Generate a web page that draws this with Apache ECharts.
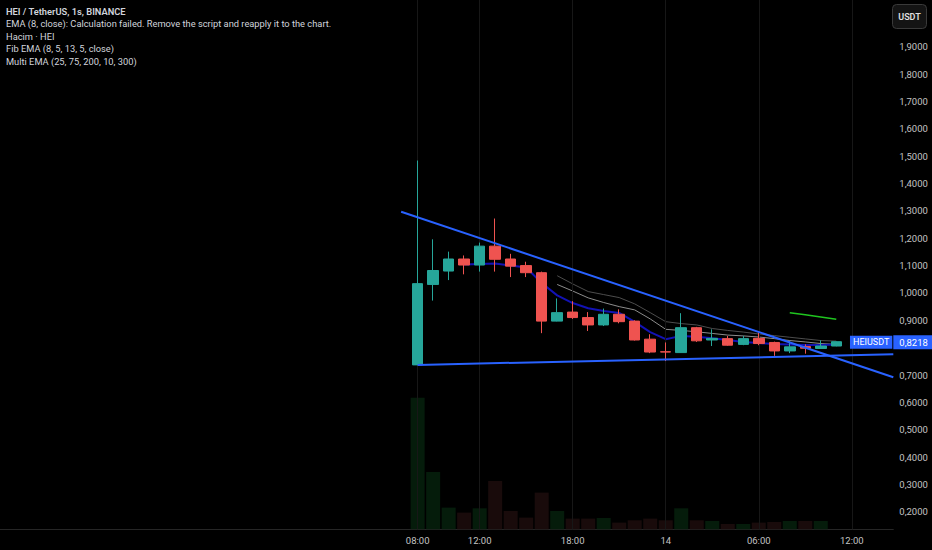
<!DOCTYPE html>
<html>
<head>
<meta charset="utf-8">
<script src="https://cdn.jsdelivr.net/npm/echarts@6/dist/echarts.min.js"></script>
<style>
html,body{margin:0;padding:0;background:#000;}
#chart{width:932px;height:550px;}
</style>
</head>
<body>
<div id="chart"></div>
<script>
// ---- data (hour index 0 = 08:00) ----
var hourIndex = [0,1,2,3,4,5,6,7,8,9,10,11,12,13,14,15,16,17,18,19,20,21,22,23,24,25,26,27];
var openP  = [0.737,1.031,1.080,1.124,1.102,1.171,1.124,1.100,1.074,0.897,0.930,0.910,0.883,0.922,0.897,0.831,0.785,0.782,0.873,0.828,0.833,0.812,0.834,0.819,0.788,0.804,0.797,0.806];
var closeP = [1.034,1.082,1.124,1.102,1.171,1.123,1.098,1.074,0.897,0.928,0.910,0.883,0.922,0.895,0.828,0.784,0.784,0.873,0.825,0.834,0.809,0.833,0.815,0.788,0.803,0.798,0.806,0.8218];
var lowP   = [0.737,0.972,1.047,1.068,1.078,1.078,1.058,1.058,0.853,0.896,0.905,0.861,0.879,0.889,0.826,0.780,0.751,0.781,0.821,0.806,0.807,0.809,0.809,0.770,0.780,0.778,0.796,0.805];
var highP  = [1.484,1.196,1.151,1.137,1.184,1.272,1.143,1.114,1.078,0.980,0.970,0.930,0.943,0.940,0.900,0.849,0.819,0.926,0.876,0.867,0.843,0.843,0.855,0.822,0.8245,0.812,0.827,0.823];
var volume = [395,172,65,50,63,145,55,35,110,55,32,32,34,20,27,32,27,63,27,25,16,16,20,22,25,25,25,0];

var emaNavy  = [null,null,null,1.104,1.106,1.108,1.100,1.093,1.036,0.991,0.963,0.944,0.934,0.927,0.894,0.857,0.831,0.843,0.840,0.834,0.828,0.821,0.817,0.813,0.812,0.810,0.810,0.812];
var emaGrey1 = [null,null,null,null,null,null,null,null,null,1.063,1.033,1.005,0.994,0.983,0.960,0.928,0.895,0.888,0.883,0.870,0.863,0.857,0.850,0.844,0.838,0.832,0.826,0.824];
var emaGrey2 = [null,null,null,null,null,null,null,null,null,1.031,1.007,0.982,0.965,0.950,0.938,0.905,0.867,0.863,0.858,0.852,0.846,0.843,0.839,0.833,0.826,0.821,0.815,0.812];
var emaGreen = [null,null,null,null,null,null,null,null,null,null,null,null,null,null,null,null,null,null,null,null,null,null,null,null,0.928,0.920,0.912,0.904];

var trendUpper = [[-1.065,1.297],[30.677,0.6917]];
var trendLower = [[0,0.737],[30.677,0.7757]];

var timeTickPos = [0,4,10,16,22,28];
var timeTickLabels = ['08:00','12:00','18:00','14','06:00','12:00'];
// 0,8000 is hidden behind the last-price tag in the reference
var priceTicks = [0.2,0.3,0.4,0.5,0.6,0.7,0.9,1.0,1.1,1.2,1.3,1.4,1.5,1.6,1.7,1.8,1.9];

var legendLines = ['HEI / TetherUS, 1s, BINANCE',
  'EMA (8, close): Calculation failed. Remove the script and reapply it to the chart.',
  'Hacim · HEI',
  'Fib EMA (8, 5, 13, 5, close)',
  'Multi EMA (25, 75, 200, 10, 300)'];
var symbolName = 'HEIUSDT';
var quoteName = 'USDT';

// ---- build ----
var UP = '#26a69a', DOWN = '#ef5350';
var FONT = 'Roboto, sans-serif';
function fmt(v){ return v.toFixed(4).replace('.', ','); }
function pairs(arr){ var o=[]; for(var i=0;i<arr.length;i++){ o.push([hourIndex[i], arr[i]]); } return o; }

var candleData = [], volData = [];
for (var i=0;i<hourIndex.length;i++){
  candleData.push([hourIndex[i], openP[i], closeP[i], lowP[i], highP[i]]);
  volData.push({value:[hourIndex[i], volume[i]], itemStyle:{color: closeP[i] >= openP[i] ? '#051c0b' : '#190b0b'}});
}
var lastClose = closeP[closeP.length-1];

var XMIN = -26.935, XMAX = 30.677;
var chart = echarts.init(document.getElementById('chart'), null, {renderer:'svg'});

var graphics = [];
legendLines.forEach(function(t, k){
  graphics.push({type:'text', left:6, top:7 + k*12.4, style:{text:t, fill:'#d1d4dc', font:(k===0?'600 ':'')+'9.3px '+FONT}});
});
graphics.push({type:'group', right:5, top:4, children:[
  {type:'rect', shape:{x:0,y:0,width:34,height:24,r:4}, style:{fill:'#141414', stroke:'#3a3a3a', lineWidth:1}},
  {type:'text', style:{text:quoteName, x:17, y:12, align:'center', verticalAlign:'middle', fill:'#e0e0e0', font:'600 9px '+FONT}}
]});

chart.setOption({
  backgroundColor:'#000000',
  animation:false,
  graphic: graphics,
  grid:[
    {left:0, right:38.7, top:0, bottom:20.7},
    {left:0, right:38.7, bottom:20.7, height:150}
  ],
  xAxis:[
    {type:'value', gridIndex:0, min:XMIN, max:XMAX,
     axisLine:{show:true, onZero:false, lineStyle:{color:'#262626'}},
     axisTick:{show:false},
     splitLine:{show:false},
     axisLabel:{customValues:timeTickPos, color:'#c3c3c3', fontSize:9.5, fontFamily:FONT, margin:6,
       formatter:function(v){ var k=timeTickPos.indexOf(Math.round(v)); return k>=0?timeTickLabels[k]:''; }}},
    {type:'value', gridIndex:1, min:XMIN, max:XMAX, show:false}
  ],
  yAxis:[
    {type:'value', gridIndex:0, position:'right', min:0.1361, max:2.0707,
     axisLine:{show:true, lineStyle:{color:'#262626'}},
     axisTick:{show:false}, splitLine:{show:false},
     axisLabel:{customValues:priceTicks, color:'#c3c3c3', fontSize:9.5, fontFamily:FONT, margin:6,
       formatter:function(v){ return fmt(v); }}},
    {type:'value', gridIndex:1, min:0, max:450, show:false}
  ],
  series:[
    {type:'bar', name:'Hacim', xAxisIndex:1, yAxisIndex:1, data:volData, barWidth:14, z:1, silent:true},
    {type:'line', name:'grid', xAxisIndex:0, yAxisIndex:0, data:[], z:2, silent:true,
     markLine:{silent:true, symbol:'none', label:{show:false}, lineStyle:{color:'#171717', width:1, type:'solid'},
       data: timeTickPos.map(function(p){ return {xAxis:p}; })}},
    {type:'line', name:'grey1', data:pairs(emaGrey1), showSymbol:false, lineStyle:{color:'#4d4d4d', width:1}, z:3, silent:true},
    {type:'line', name:'grey2', data:pairs(emaGrey2), showSymbol:false, lineStyle:{color:'#8c8c8c', width:1}, z:3, silent:true},
    {type:'line', name:'navy', data:pairs(emaNavy), showSymbol:false, lineStyle:{color:'#1212b4', width:2}, z:3, silent:true},
    {type:'line', name:'green', data:pairs(emaGreen), showSymbol:false, lineStyle:{color:'#1fc41f', width:1.5}, z:3, silent:true},
    {type:'candlestick', name:'HEI', data:candleData, barWidth:11, z:5,
     itemStyle:{color:UP, color0:DOWN, borderColor:UP, borderColor0:DOWN, borderWidth:1}},
    {type:'line', name:'trendUpper', data:trendUpper, showSymbol:false, lineStyle:{color:'#2962ff', width:2}, z:6, silent:true},
    {type:'line', name:'trendLower', data:trendLower, showSymbol:false, lineStyle:{color:'#2962ff', width:2}, z:6, silent:true},
    {type:'line', name:'lastPrice', data:[], z:10, silent:true,
     markLine:{silent:true, symbol:'none', lineStyle:{color:'rgba(0,0,0,0)', width:0},
       data:[
         {yAxis:lastClose, label:{show:true, position:'end', distance:0, formatter:function(){return fmt(lastClose);},
            color:'#ffffff', backgroundColor:'#2962ff', padding:[2,5,2,6], fontSize:9.5, fontFamily:FONT}},
         {yAxis:lastClose, label:{show:true, position:'insideEnd', distance:1, formatter:symbolName,
            color:'#ffffff', backgroundColor:'#2962ff', padding:[2,3,2,3], fontSize:9, fontFamily:FONT}}
       ]}}
  ]
});
</script>
</body>
</html>
